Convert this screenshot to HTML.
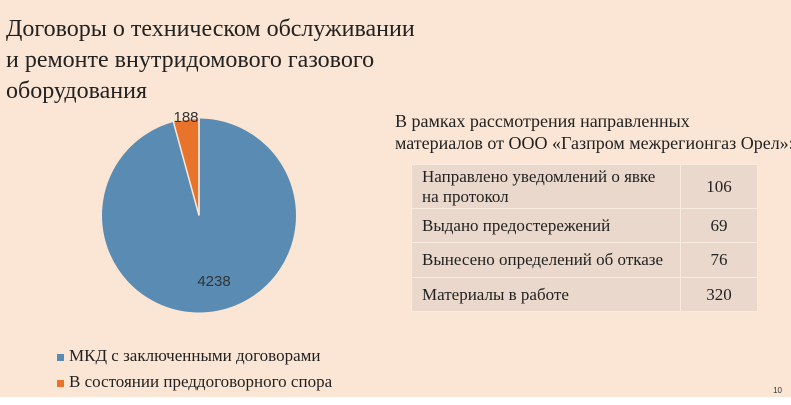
<!DOCTYPE html>
<html><head><meta charset="utf-8"><style>
body{margin:0;width:791px;height:405px;background:#fff;overflow:hidden;position:relative;}
#bg{position:absolute;left:0;top:0;width:791px;height:397px;background:#fbe6d5;}
.t,table{font-family:"Liberation Serif","Noto Serif CJK SC","DejaVu Serif",serif;}
.t{position:absolute;color:#222;white-space:nowrap;}
table{position:absolute;left:411px;top:164px;border-collapse:collapse;font-size:17px;color:#222;}
td{background:#e9d8cb;border:1px solid #f8ebe0;padding:0 0 0 10px;white-space:nowrap;}
td.n{text-align:center;padding:0;width:76px;}
</style></head><body>
<div id="bg"></div>
<div class="t" style="left:6px;top:14px;font-size:24px;line-height:31px;">Договоры о техническом обслуживании<br>и ремонте внутридомового газового<br>оборудования</div>
<svg style="position:absolute;left:0;top:0" width="791" height="405">
<circle cx="199" cy="215.5" r="97" fill="#5a8cb3"/>
<path d="M199,215.5 L199,118.5 A97,97 0 0 0 173.4,121.9 Z" fill="#e8742b" stroke="#fbe6d5" stroke-width="1.5"/>
<line x1="199" y1="215.5" x2="199" y2="118" stroke="#fbe6d5" stroke-width="1.5"/>
<text x="186" y="122" font-family="Liberation Sans" font-size="15" fill="#333" text-anchor="middle">188</text>
<text x="214" y="286" font-family="Liberation Sans" font-size="15" fill="#333" text-anchor="middle">4238</text>
<rect x="57" y="354" width="7" height="7" fill="#5a8cb3"/>
<rect x="57" y="380" width="7" height="7" fill="#e8742b"/>
<text x="782" y="393" font-family="Liberation Sans" font-size="8" fill="#333" text-anchor="end">10</text>
</svg>
<div class="t" style="left:69px;top:346px;font-size:17px;letter-spacing:0px;">МКД с заключенными договорами</div>
<div class="t" style="left:69px;top:372px;font-size:17px;letter-spacing:0px;">В состоянии преддоговорного спора</div>
<div class="t" style="left:395px;top:110px;font-size:18px;line-height:22px;">В рамках рассмотрения направленных<br>материалов от ООО «Газпром межрегионгаз Орел»:</div>
<table>
<tr style="height:44px"><td style="width:258px;line-height:20px">Направлено уведомлений о явке<br>на протокол</td><td class="n">106</td></tr>
<tr style="height:34px"><td>Выдано предостережений</td><td class="n">69</td></tr>
<tr style="height:35px"><td>Вынесено определений об отказе</td><td class="n">76</td></tr>
<tr style="height:34px"><td>Материалы в работе</td><td class="n">320</td></tr>
</table>
</body></html>
